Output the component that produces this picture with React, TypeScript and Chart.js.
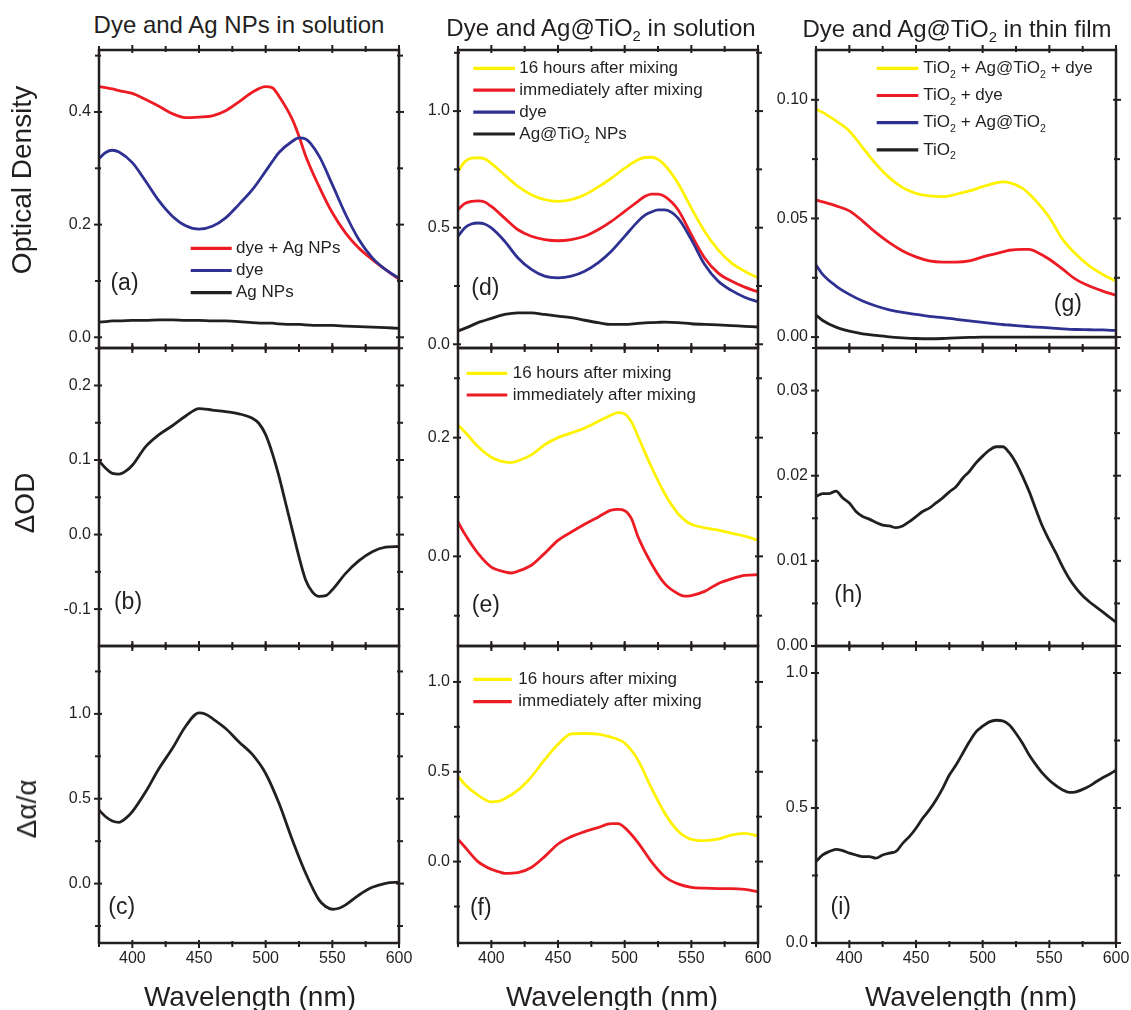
import React, { useEffect, useRef } from 'react';
import { Chart, registerables } from 'chart.js';

Chart.register(...registerables);

const INK = '#231F20';
const YEL = '#FFF200';
const RED = '#ED1C24';
const BLU = '#2E3192';
const FONT = "'Liberation Sans', Arial, Helvetica, sans-serif";

// ---------------- data ----------------
// (a) Dye and Ag NPs in solution: optical density
const WL_A = [375, 380, 385, 390, 400, 410, 420, 430, 440, 450, 460, 470, 480, 490, 500, 505, 510, 520, 525, 530, 540, 550, 560, 570, 580, 590, 600];
const A_DYE_AG = [0.445, 0.443, 0.441, 0.438, 0.433, 0.422, 0.41, 0.397, 0.39, 0.391, 0.393, 0.402, 0.418, 0.435, 0.445, 0.443, 0.428, 0.387, 0.357, 0.322, 0.268, 0.221, 0.185, 0.158, 0.138, 0.12, 0.103];
const A_DYE = [0.317, 0.328, 0.332, 0.329, 0.31, 0.277, 0.242, 0.215, 0.198, 0.192, 0.197, 0.212, 0.236, 0.262, 0.295, 0.312, 0.328, 0.348, 0.354, 0.352, 0.322, 0.271, 0.218, 0.173, 0.141, 0.12, 0.105];
const A_AG = [0.027, 0.028, 0.029, 0.029, 0.03, 0.03, 0.031, 0.031, 0.03, 0.03, 0.029, 0.029, 0.028, 0.026, 0.025, 0.025, 0.024, 0.023, 0.023, 0.022, 0.021, 0.021, 0.02, 0.019, 0.018, 0.017, 0.016];

// (b) delta OD
const WL_B = [375, 380, 385, 390, 395, 400, 410, 420, 430, 440, 450, 460, 470, 480, 490, 495, 500, 505, 510, 515, 520, 525, 530, 535, 540, 545, 550, 560, 570, 580, 590, 600];
const B_DOD = [0.099, 0.089, 0.082, 0.081, 0.085, 0.093, 0.118, 0.134, 0.146, 0.159, 0.169, 0.167, 0.165, 0.162, 0.156, 0.149, 0.134, 0.109, 0.078, 0.042, 0.006, -0.03, -0.061, -0.077, -0.083, -0.082, -0.074, -0.052, -0.035, -0.023, -0.017, -0.016];

// (c) delta alpha / alpha
const WL_C = [375, 380, 385, 390, 395, 400, 410, 420, 430, 440, 450, 455, 460, 470, 480, 490, 500, 510, 520, 530, 540, 545, 550, 555, 560, 570, 580, 590, 600];
const C_DAA = [0.433, 0.394, 0.369, 0.361, 0.384, 0.424, 0.541, 0.678, 0.796, 0.927, 1.006, 0.998, 0.973, 0.914, 0.835, 0.761, 0.649, 0.473, 0.257, 0.061, -0.096, -0.135, -0.151, -0.145, -0.125, -0.067, -0.022, 0.002, 0.008];

// (d) Dye and Ag@TiO2 in solution: optical density
const WL_D = [375, 380, 385, 390, 395, 400, 410, 420, 430, 440, 450, 460, 470, 480, 490, 500, 510, 515, 520, 525, 530, 540, 550, 560, 570, 580, 590, 600];
const D_16H = [0.741, 0.783, 0.798, 0.8, 0.795, 0.776, 0.726, 0.677, 0.641, 0.62, 0.613, 0.62, 0.641, 0.674, 0.712, 0.755, 0.791, 0.801, 0.802, 0.793, 0.769, 0.691, 0.584, 0.484, 0.406, 0.349, 0.313, 0.285];
const D_IMM = [0.577, 0.603, 0.613, 0.615, 0.61, 0.591, 0.541, 0.491, 0.463, 0.449, 0.444, 0.449, 0.463, 0.491, 0.527, 0.57, 0.613, 0.634, 0.644, 0.644, 0.634, 0.577, 0.47, 0.37, 0.306, 0.271, 0.245, 0.225];
const D_DYE = [0.463, 0.499, 0.516, 0.52, 0.516, 0.499, 0.442, 0.37, 0.321, 0.292, 0.285, 0.292, 0.313, 0.349, 0.399, 0.463, 0.527, 0.553, 0.567, 0.576, 0.576, 0.541, 0.449, 0.342, 0.271, 0.231, 0.202, 0.182];
const D_NPS = [0.057, 0.068, 0.08, 0.093, 0.102, 0.111, 0.128, 0.135, 0.135, 0.128, 0.121, 0.114, 0.103, 0.093, 0.085, 0.085, 0.09, 0.092, 0.093, 0.094, 0.095, 0.093, 0.088, 0.085, 0.083, 0.08, 0.077, 0.074];

// (e) delta OD
const WL_E = [375, 380, 390, 400, 410, 415, 420, 430, 440, 450, 460, 470, 480, 490, 495, 500, 505, 510, 520, 530, 540, 545, 550, 560, 570, 580, 590, 600];
const E_16H = [0.221, 0.21, 0.185, 0.167, 0.159, 0.158, 0.161, 0.171, 0.188, 0.2, 0.208, 0.216, 0.227, 0.238, 0.242, 0.24, 0.227, 0.202, 0.151, 0.106, 0.072, 0.061, 0.054, 0.048, 0.044, 0.039, 0.034, 0.027];
const E_IMM = [0.058, 0.038, 0.005, -0.018, -0.026, -0.028, -0.025, -0.015, 0.005, 0.027, 0.041, 0.054, 0.066, 0.078, 0.079, 0.077, 0.064, 0.033, -0.012, -0.046, -0.063, -0.067, -0.066, -0.059, -0.046, -0.038, -0.032, -0.031];

// (f) delta alpha / alpha
const WL_F = [375, 380, 390, 400, 405, 410, 420, 430, 440, 450, 460, 470, 480, 490, 495, 500, 510, 520, 530, 540, 550, 560, 570, 580, 590, 600];
const F_16H = [0.476, 0.43, 0.37, 0.333, 0.335, 0.35, 0.398, 0.472, 0.567, 0.653, 0.711, 0.713, 0.71, 0.692, 0.68, 0.66, 0.565, 0.41, 0.27, 0.17, 0.124, 0.117, 0.125, 0.148, 0.157, 0.143];
const F_IMM = [0.124, 0.083, 0, -0.043, -0.055, -0.065, -0.061, -0.033, 0.028, 0.098, 0.139, 0.167, 0.189, 0.211, 0.211, 0.189, 0.106, 0, -0.083, -0.124, -0.143, -0.148, -0.15, -0.15, -0.154, -0.167];

// (g) Dye and Ag@TiO2 in thin film: optical density
const WL_G = [375, 380, 390, 400, 410, 420, 430, 440, 450, 460, 470, 480, 490, 500, 510, 515, 520, 530, 535, 540, 550, 560, 570, 580, 590, 600];
const G_ALL = [0.0961, 0.0947, 0.0911, 0.0869, 0.0799, 0.0729, 0.0672, 0.063, 0.0606, 0.0595, 0.0592, 0.0602, 0.0616, 0.0634, 0.065, 0.0654, 0.0651, 0.0627, 0.0603, 0.0574, 0.0504, 0.0412, 0.0349, 0.03, 0.0264, 0.0236];
const G_TIO2_DYE = [0.0578, 0.057, 0.0553, 0.0532, 0.0489, 0.044, 0.0398, 0.0363, 0.0338, 0.0321, 0.0316, 0.0316, 0.0321, 0.0338, 0.0352, 0.0359, 0.0366, 0.037, 0.037, 0.036, 0.0328, 0.0286, 0.0243, 0.0215, 0.0194, 0.0176];
const G_TIO2_AG = [0.0304, 0.0264, 0.0215, 0.018, 0.0152, 0.0131, 0.0115, 0.0104, 0.0096, 0.0087, 0.0082, 0.0075, 0.0068, 0.0062, 0.0056, 0.0053, 0.0051, 0.0046, 0.0044, 0.0042, 0.0039, 0.0035, 0.0032, 0.0031, 0.003, 0.0028];
const G_TIO2 = [0.0093, 0.007, 0.0042, 0.0025, 0.0014, 0.0007, 0.0001, -0.0003, -0.0006, -0.0007, -0.0006, -0.0003, -0.0001, 0, 0, 0, 0, 0, 0, 0, 0, 0, 0, 0, 0, 0];

// (h) delta OD (thin film)
const WL_H = [375, 380, 385, 390, 395, 400, 405, 410, 415, 420, 425, 430, 435, 440, 445, 450, 455, 460, 465, 470, 475, 480, 485, 490, 495, 500, 505, 510, 515, 520, 525, 530, 535, 540, 545, 550, 555, 560, 565, 570, 575, 580, 585, 590, 595, 600];
const H_DOD = [0.01755, 0.0179, 0.0179, 0.0182, 0.0174, 0.0168, 0.0158, 0.0152, 0.0149, 0.0145, 0.0142, 0.0141, 0.0139, 0.0141, 0.0146, 0.0152, 0.0158, 0.0162, 0.0168, 0.0174, 0.0181, 0.0187, 0.0197, 0.0205, 0.0215, 0.0223, 0.023, 0.0234, 0.0234, 0.0227, 0.0215, 0.0199, 0.0181, 0.016, 0.014, 0.0124, 0.0109, 0.0093, 0.0079, 0.0068, 0.0059, 0.0052, 0.0046, 0.004, 0.0034, 0.0028];

// (i) delta alpha / alpha (thin film)
const WL_I = WL_H;
const I_DAA = [0.302, 0.326, 0.339, 0.347, 0.342, 0.333, 0.326, 0.32, 0.32, 0.314, 0.326, 0.333, 0.339, 0.369, 0.394, 0.425, 0.462, 0.493, 0.53, 0.573, 0.622, 0.659, 0.702, 0.745, 0.782, 0.803, 0.819, 0.825, 0.823, 0.807, 0.776, 0.739, 0.695, 0.66, 0.628, 0.603, 0.583, 0.567, 0.558, 0.56, 0.569, 0.581, 0.597, 0.612, 0.625, 0.64];

const X_MIN = 375;
const X_MAX = 600;
const X_TICKS = [400, 450, 500, 550, 600];

// ---------------- layout ----------------
const COL_X = [99, 458, 816];
const ROW_Y = [50, 348, 646];
const ROW_H = [298, 298, 297];
const PW = 300;
const ML = 70, MT = 10, MR = 25, MB = 40;

type Series = { label: string; color: string; wl: number[]; vals: number[] };
type LegendCfg = { dx: number; dy: number; gap: number; len: number; textOff: number };
type Panel = {
  id: string; col: number; row: number;
  ymin: number; ymax: number; major: number; minor: number; dec: number;
  series: Series[]; legend?: LegendCfg;
};

const PANELS: Panel[] = [
  { id: 'a', col: 0, row: 0, ymin: -0.019, ymax: 0.51, major: 0.2, minor: 0.1, dec: 1,
    series: [
      { label: 'Ag NPs', color: INK, wl: WL_A, vals: A_AG },
      { label: 'dye', color: BLU, wl: WL_A, vals: A_DYE },
      { label: 'dye + Ag NPs', color: RED, wl: WL_A, vals: A_DYE_AG },
    ],
    legend: { dx: 91.7, dy: 198.3, gap: 22.2, len: 41, textOff: 45.3 } },
  { id: 'b', col: 0, row: 1, ymin: -0.1495, ymax: 0.2503, major: 0.1, minor: 0.05, dec: 1,
    series: [{ label: 'ΔOD', color: INK, wl: WL_B, vals: B_DOD }] },
  { id: 'c', col: 0, row: 2, ymin: -0.35, ymax: 1.4, major: 0.5, minor: 0.25, dec: 1,
    series: [{ label: 'Δα/α', color: INK, wl: WL_C, vals: C_DAA }] },
  { id: 'd', col: 1, row: 0, ymin: -0.016, ymax: 1.262, major: 0.5, minor: 0.25, dec: 1,
    series: [
      { label: 'Ag@TiO₂ NPs', color: INK, wl: WL_D, vals: D_NPS },
      { label: 'dye', color: BLU, wl: WL_D, vals: D_DYE },
      { label: 'immediately after mixing', color: RED, wl: WL_D, vals: D_IMM },
      { label: '16 hours after mixing', color: YEL, wl: WL_D, vals: D_16H },
    ],
    legend: { dx: 15.3, dy: 18.3, gap: 21.9, len: 41.7, textOff: 46 } },
  { id: 'e', col: 1, row: 1, ymin: -0.151, ymax: 0.351, major: 0.2, minor: 0.1, dec: 1,
    series: [
      { label: 'immediately after mixing', color: RED, wl: WL_E, vals: E_IMM },
      { label: '16 hours after mixing', color: YEL, wl: WL_E, vals: E_16H },
    ],
    legend: { dx: 8.7, dy: 25.3, gap: 21.7, len: 40.6, textOff: 46 } },
  { id: 'f', col: 1, row: 2, ymin: -0.453, ymax: 1.2, major: 0.5, minor: 0.25, dec: 1,
    series: [
      { label: 'immediately after mixing', color: RED, wl: WL_F, vals: F_IMM },
      { label: '16 hours after mixing', color: YEL, wl: WL_F, vals: F_16H },
    ],
    legend: { dx: 15.3, dy: 33.3, gap: 22.4, len: 38.4, textOff: 45 } },
  { id: 'g', col: 2, row: 0, ymin: -0.0046, ymax: 0.121, major: 0.05, minor: 0.025, dec: 2,
    series: [
      { label: 'TiO₂', color: INK, wl: WL_G, vals: G_TIO2 },
      { label: 'TiO₂ + Ag@TiO₂', color: BLU, wl: WL_G, vals: G_TIO2_AG },
      { label: 'TiO₂ + dye', color: RED, wl: WL_G, vals: G_TIO2_DYE },
      { label: 'TiO₂ + Ag@TiO₂ + dye', color: YEL, wl: WL_G, vals: G_ALL },
    ],
    legend: { dx: 60.7, dy: 18.3, gap: 27.2, len: 41.6, textOff: 46.6 } },
  { id: 'h', col: 2, row: 1, ymin: 0, ymax: 0.035, major: 0.01, minor: 0.005, dec: 2,
    series: [{ label: 'ΔOD', color: INK, wl: WL_H, vals: H_DOD }] },
  { id: 'i', col: 2, row: 2, ymin: 0, ymax: 1.1, major: 0.5, minor: 0.25, dec: 1,
    series: [{ label: 'Δα/α', color: INK, wl: WL_I, vals: I_DAA }] },
];

// ---------------- drawing helpers ----------------
function drawRich(ctx: CanvasRenderingContext2D, text: string, x: number, y: number, size: number) {
  const parts = text.split('₂');
  let cx = x;
  ctx.textAlign = 'left';
  ctx.textBaseline = 'middle';
  parts.forEach((p, i) => {
    ctx.font = `${size}px ${FONT}`;
    ctx.fillText(p, cx, y);
    cx += ctx.measureText(p).width;
    if (i < parts.length - 1) {
      const s = size * 0.62;
      ctx.font = `${s}px ${FONT}`;
      ctx.fillText('2', cx, y + size * 0.38);
      cx += ctx.measureText('2').width;
    }
  });
}

const framePlugin = {
  id: 'frame',
  afterDatasetsDraw(chart: any, _args: any, opts: any) {
    const { ctx, chartArea } = chart;
    const { left, right, top, bottom } = chartArea;
    const xs = chart.scales.x;
    const ys = chart.scales.y;
    ctx.save();
    ctx.strokeStyle = INK;
    ctx.lineCap = 'butt';
    ctx.lineWidth = 2;
    const seg = (x1: number, y1: number, x2: number, y2: number) => {
      ctx.beginPath(); ctx.moveTo(x1, y1); ctx.lineTo(x2, y2); ctx.stroke();
    };
    for (let v = X_MIN; v <= X_MAX; v += 25) {
      const px = xs.getPixelForValue(v);
      const major = v % 50 === 0;
      const out = major ? 5 : 4;
      const inn = major ? 3 : 2;
      seg(px, bottom - inn, px, bottom + out);
      seg(px, top + inn, px, top - out);
    }
    const minor = opts.minor;
    const k0 = Math.ceil(ys.min / minor - 1e-6);
    const k1 = Math.floor(ys.max / minor + 1e-6);
    for (let k = k0; k <= k1; k++) {
      const v = k * minor;
      const py = ys.getPixelForValue(v);
      const r = v / opts.major;
      const major = Math.abs(r - Math.round(r)) < 1e-6;
      const out = major ? 5 : 4;
      const inn = major ? 3 : 2;
      seg(left - out, py, left + inn, py);
      seg(right - inn, py, right + out, py);
    }
    ctx.lineWidth = 2.5;
    ctx.strokeRect(left, top, right - left, bottom - top);
    ctx.restore();
  },
};

const legendPlugin = {
  id: 'inlineLegend',
  afterDatasetsDraw(chart: any, _args: any, opts: any) {
    if (!opts || !opts.cfg) return;
    const cfg: LegendCfg = opts.cfg;
    const { ctx, chartArea } = chart;
    const items = [...chart.data.datasets].reverse();
    ctx.save();
    items.forEach((ds: any, i: number) => {
      const y = chartArea.top + cfg.dy + i * cfg.gap;
      const x = chartArea.left + cfg.dx;
      ctx.strokeStyle = ds.borderColor;
      ctx.lineWidth = 3.2;
      ctx.beginPath(); ctx.moveTo(x, y); ctx.lineTo(x + cfg.len, y); ctx.stroke();
      ctx.fillStyle = INK;
      drawRich(ctx, ds.label, x + cfg.textOff, y, 17);
    });
    ctx.restore();
  },
};

function PanelChart({ p }: { p: Panel }) {
  const ref = useRef<HTMLCanvasElement>(null);
  const bottomRow = p.row === 2;
  const w = ML + PW + MR;
  const h = MT + ROW_H[p.row] + MB;
  useEffect(() => {
    const cv = ref.current;
    if (!cv) return;
    const chart = new Chart(cv, {
      type: 'line',
      data: {
        datasets: p.series.map((s) => ({
          label: s.label,
          data: s.wl.map((x, i) => ({ x, y: s.vals[i] })),
          borderColor: s.color,
          backgroundColor: s.color,
          borderWidth: 2.8,
          pointRadius: 0,
          cubicInterpolationMode: 'monotone' as const,
          fill: false,
        })),
      },
      options: {
        responsive: false,
        animation: false,
        devicePixelRatio: 1,
        events: [],
        layout: { padding: { left: 0, top: MT, right: MR, bottom: 0 }, autoPadding: false },
        plugins: {
          legend: { display: false },
          tooltip: { enabled: false },
          frame: { minor: p.minor, major: p.major },
          inlineLegend: { cfg: p.legend },
        } as any,
        scales: {
          x: {
            type: 'linear',
            min: X_MIN,
            max: X_MAX,
            grid: { display: false, drawTicks: false },
            border: { display: false },
            afterFit: (s: any) => { s.height = MB; s.paddingLeft = 0; s.paddingRight = 0; },
            ticks: {
              stepSize: 50,
              includeBounds: false,
              autoSkip: false,
              maxRotation: 0,
              padding: 6,
              color: INK,
              font: { size: 16, family: FONT },
              callback: (v: any) => (bottomRow && X_TICKS.includes(Number(v)) ? String(v) : ''),
            },
          },
          y: {
            type: 'linear',
            min: p.ymin,
            max: p.ymax,
            grid: { display: false, drawTicks: false },
            border: { display: false },
            afterFit: (s: any) => { s.width = ML; s.paddingTop = 0; s.paddingBottom = 0; },
            ticks: {
              stepSize: p.major,
              includeBounds: false,
              autoSkip: false,
              padding: 8,
              color: INK,
              font: { size: 16, family: FONT },
              callback: (v: any) => {
                const n = Math.abs(Number(v)) < 1e-9 ? 0 : Number(v);
                const r = n / p.major;
                return Math.abs(r - Math.round(r)) < 1e-6 ? n.toFixed(p.dec) : '';
              },
            },
          },
        },
      },
      plugins: [framePlugin, legendPlugin],
    } as any);
    return () => chart.destroy();
  }, []);
  return (
    <canvas
      ref={ref}
      width={w}
      height={h}
      style={{ position: 'absolute', left: COL_X[p.col] - ML, top: ROW_Y[p.row] - MT, width: w, height: h }}
    />
  );
}

const Sub2 = () => (
  <span style={{ fontSize: '0.62em', position: 'relative', top: '0.38em' }}>2</span>
);

function Txt({ x, y, size, rot, children }: { x: number; y: number; size: number; rot?: boolean; children: any }) {
  return (
    <div
      style={{
        position: 'absolute', left: x, top: y, fontSize: size, lineHeight: 1, fontFamily: FONT,
        color: INK, whiteSpace: 'nowrap',
        transform: `translate(-50%, -50%)${rot ? ' rotate(-90deg)' : ''}`,
      }}
    >
      {children}
    </div>
  );
}

const PANEL_TAGS: [string, number, number][] = [
  ['(a)', 124.5, 281.7], ['(b)', 128, 601.4], ['(c)', 121.7, 906],
  ['(d)', 485.3, 286.9], ['(e)', 485.8, 603.7], ['(f)', 480.8, 906.5],
  ['(g)', 1067.8, 302.7], ['(h)', 848.3, 594.4], ['(i)', 840.8, 906],
];

export default function App() {
  return (
    <div style={{ position: 'absolute', left: 0, top: 0, width: 1131, height: 1010, overflow: 'hidden', background: '#fff' }}>
      {PANELS.map((p) => <PanelChart key={p.id} p={p} />)}
      <Txt x={239} y={25} size={24}>Dye and Ag NPs in solution</Txt>
      <Txt x={601} y={27.5} size={24}>Dye and Ag@TiO<Sub2 /> in solution</Txt>
      <Txt x={957} y={28.5} size={24}>Dye and Ag@TiO<Sub2 /> in thin film</Txt>
      <Txt x={22} y={180} size={28} rot>Optical Density</Txt>
      <Txt x={25} y={503} size={28} rot>ΔOD</Txt>
      <Txt x={27} y={809} size={28} rot>Δα/α</Txt>
      <Txt x={250} y={997} size={28}>Wavelength (nm)</Txt>
      <Txt x={612} y={997} size={28}>Wavelength (nm)</Txt>
      <Txt x={971} y={997} size={28}>Wavelength (nm)</Txt>
      {PANEL_TAGS.map(([t, x, y]) => <Txt key={t} x={x} y={y} size={23}>{t}</Txt>)}
    </div>
  );
}
